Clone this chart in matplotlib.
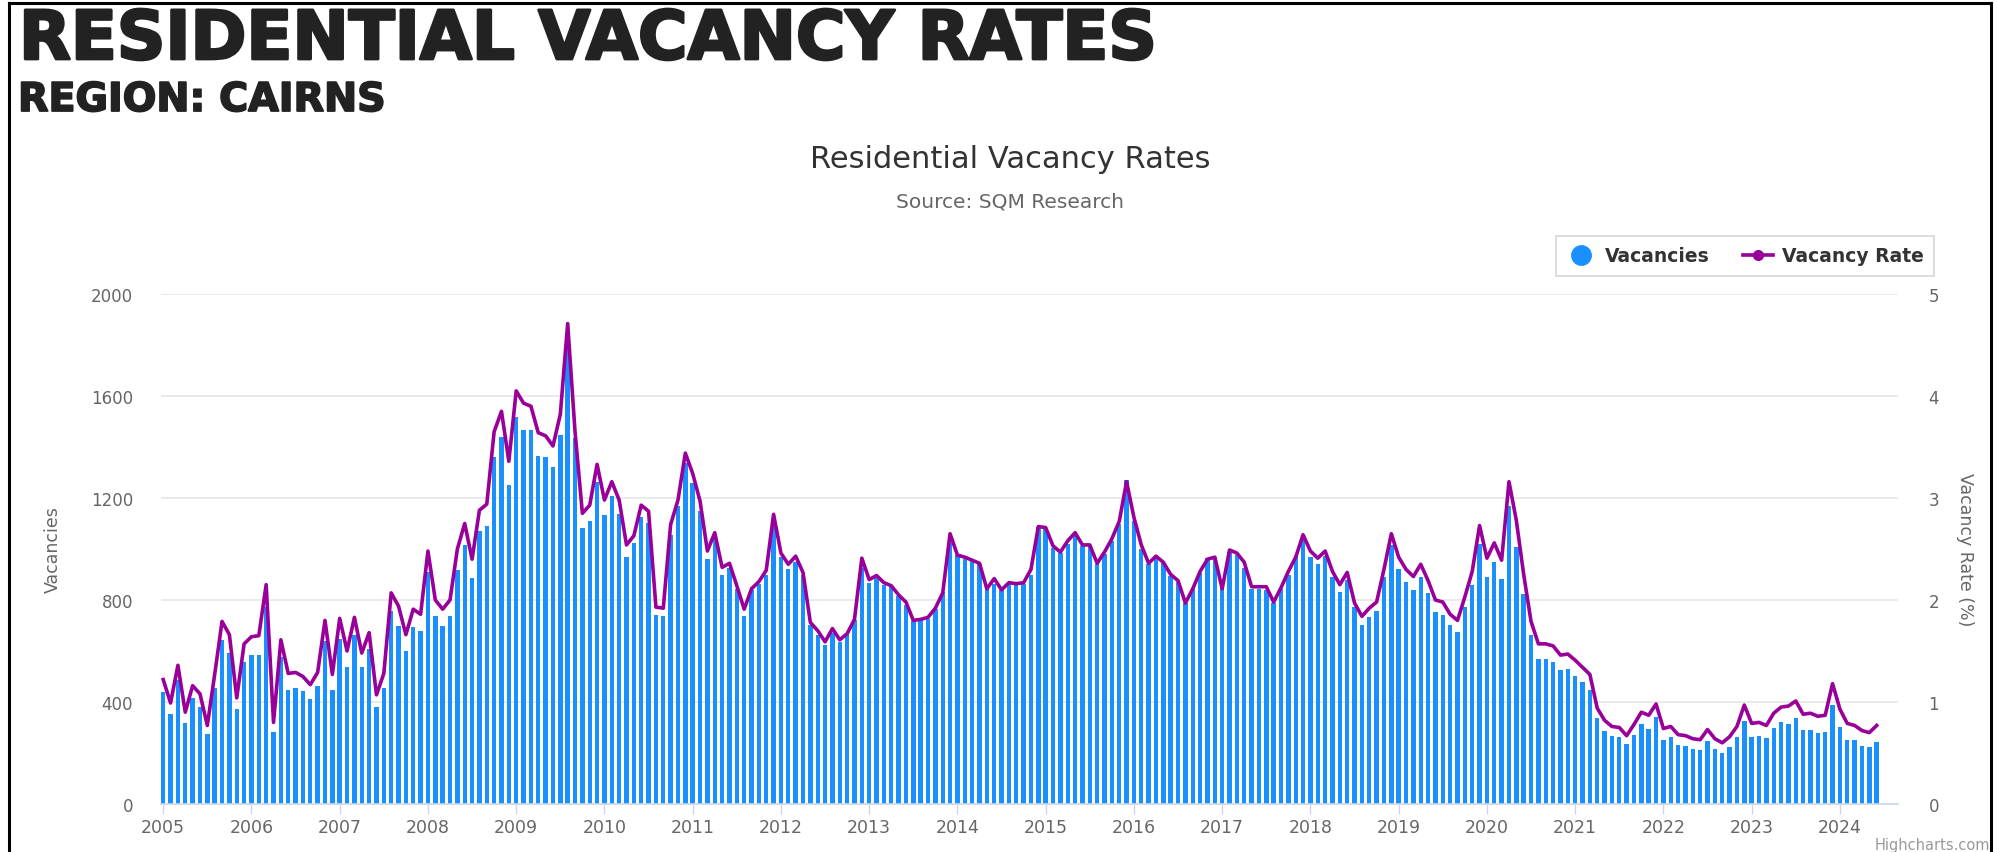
import numpy as np
import matplotlib
matplotlib.use("Agg")
import matplotlib.pyplot as plt
import matplotlib.patheffects as pe
from matplotlib.lines import Line2D

# monthly data, Jan 2005 - Jun 2024
vacancies = [
    438, 354, 487, 319, 417, 382, 273, 455, 643, 592, 371, 557,      # 2005
    585, 585, 773, 284, 578, 449, 456, 442, 410, 462, 641, 449,      # 2006
    648, 536, 662, 536, 608, 382, 456, 755, 699, 599, 694, 678,      # 2007
    909, 736, 697, 736, 916, 1014, 888, 1070, 1092, 1361, 1441, 1252,  # 2008
    1519, 1466, 1466, 1365, 1361, 1322, 1449, 1794, 1434, 1084, 1109, 1263,  # 2009
    1133, 1207, 1137, 969, 1025, 1127, 1102, 741, 736, 1053, 1168, 1337,  # 2010
    1257, 1148, 962, 1039, 899, 924, 843, 738, 839, 864, 899, 1095,  # 2011
    969, 920, 948, 899, 703, 664, 622, 669, 634, 669, 722, 927,      # 2012
    867, 888, 860, 853, 815, 780, 717, 720, 724, 766, 832, 1025,     # 2013
    976, 962, 955, 941, 843, 864, 840, 866, 858, 862, 900, 1085,     # 2014
    1080, 1005, 985, 1020, 1063, 1010, 1010, 940, 980, 1030, 1100, 1270,  # 2015
    1110, 1000, 940, 975, 945, 895, 870, 790, 845, 905, 965, 970,    # 2016
    843, 990, 976, 927, 843, 843, 840, 787, 843, 899, 972, 1039,     # 2017
    969, 941, 972, 892, 832, 878, 773, 701, 734, 755, 892, 1014,     # 2018
    920, 871, 841, 892, 829, 752, 743, 701, 673, 773, 860, 1018,     # 2019
    892, 950, 881, 1168, 1007, 825, 664, 568, 568, 557, 524, 529,    # 2020
    501, 480, 449, 337, 288, 267, 263, 234, 270, 315, 295, 343,      # 2021
    252, 263, 232, 228, 217, 211, 246, 217, 200, 224, 263, 326,      # 2022
    263, 267, 257, 297, 320, 313, 337, 291, 291, 279, 284, 387,      # 2023
    303, 251, 251, 228, 222, 244,                                    # 2024
]

vacancy_rate = [
    1.22, 0.99, 1.36, 0.90, 1.16, 1.08, 0.77, 1.27, 1.79, 1.66, 1.04, 1.57,
    1.64, 1.65, 2.15, 0.80, 1.61, 1.28, 1.29, 1.25, 1.17, 1.29, 1.80, 1.27,
    1.82, 1.50, 1.83, 1.48, 1.68, 1.07, 1.28, 2.07, 1.94, 1.66, 1.91, 1.86,
    2.48, 2.00, 1.91, 2.00, 2.50, 2.75, 2.40, 2.88, 2.94, 3.65, 3.85, 3.36,
    4.05, 3.93, 3.90, 3.64, 3.61, 3.51, 3.82, 4.71, 3.65, 2.85, 2.93, 3.33,
    2.98, 3.16, 2.98, 2.54, 2.63, 2.93, 2.87, 1.93, 1.92, 2.74, 2.98, 3.44,
    3.24, 2.97, 2.48, 2.66, 2.32, 2.36, 2.14, 1.91, 2.11, 2.18, 2.29, 2.84,
    2.46, 2.35, 2.43, 2.27, 1.78, 1.70, 1.59, 1.72, 1.61, 1.67, 1.81, 2.41,
    2.20, 2.24, 2.17, 2.14, 2.05, 1.98, 1.80, 1.81, 1.83, 1.92, 2.07, 2.65,
    2.44, 2.42, 2.39, 2.36, 2.11, 2.21, 2.10, 2.17, 2.16, 2.17, 2.30, 2.72,
    2.71, 2.53, 2.47, 2.58, 2.66, 2.54, 2.54, 2.36, 2.47, 2.60, 2.77, 3.16,
    2.81, 2.54, 2.36, 2.43, 2.37, 2.25, 2.19, 1.97, 2.11, 2.28, 2.40, 2.42,
    2.11, 2.49, 2.46, 2.37, 2.13, 2.13, 2.13, 1.98, 2.12, 2.28, 2.42, 2.64,
    2.48, 2.41, 2.48, 2.28, 2.15, 2.27, 1.97, 1.84, 1.92, 1.98, 2.30, 2.65,
    2.42, 2.30, 2.23, 2.35, 2.19, 2.00, 1.98, 1.86, 1.80, 2.03, 2.28, 2.73,
    2.41, 2.56, 2.39, 3.16, 2.78, 2.25, 1.79, 1.57, 1.57, 1.55, 1.46, 1.47,
    1.41, 1.34, 1.27, 0.94, 0.82, 0.76, 0.75, 0.67, 0.78, 0.90, 0.87, 0.98,
    0.74, 0.76, 0.68, 0.67, 0.64, 0.63, 0.73, 0.64, 0.60, 0.66, 0.76, 0.97,
    0.79, 0.80, 0.77, 0.89, 0.95, 0.96, 1.01, 0.88, 0.89, 0.86, 0.87, 1.18,
    0.93, 0.79, 0.77, 0.72, 0.70, 0.77,
]

start_year = 2005
years = list(range(2005, 2025))
vac_ticks = [0, 400, 800, 1200, 1600, 2000]
rate_ticks = [0, 1, 2, 3, 4, 5]

W, H = 1997, 853
fig = plt.figure(figsize=(W / 100, H / 100), dpi=100)
plt.rcParams['font.family'] = ['DejaVu Sans']

x = np.arange(len(vacancies))
year_pos = [(y - start_year) * 12 for y in years]

ax = fig.add_axes([161 / W, 1 - 805 / H, (1898 - 161) / W, (805 - 295) / H])
ax2 = ax.twinx()

ax.bar(x, vacancies, width=0.6, color='#1a90ff', zorder=2)
ax2.plot(x, vacancy_rate, color='#990099', lw=2.6, solid_joinstyle='round', zorder=3)

ax.set_xlim(-0.3, 235.9)
ax.set_ylim(0, 2000)
ax2.set_ylim(0, 5)
ax.set_yticks(vac_ticks)
ax2.set_yticks(rate_ticks)
ax.set_xticks(year_pos)
ax.set_xticklabels([str(y) for y in years])

ax.set_axisbelow(True)
ax.grid(True, axis='y', color='#e6e6e6', lw=1.2)
for a in (ax, ax2):
    for s in a.spines.values():
        s.set_visible(False)
ax.spines['bottom'].set_visible(True)
ax.spines['bottom'].set_color('#ccd6eb')
ax.spines['bottom'].set_linewidth(1.2)

ax.tick_params(axis='x', length=7, width=1, color='#ccd6eb', labelcolor='#666666',
               labelsize=12.5, pad=3)
ax.tick_params(axis='y', length=0, labelsize=12, labelcolor='#666666', pad=20)
ax2.tick_params(axis='y', length=0, labelsize=12, labelcolor='#666666', pad=22)

fig.text(53 / W, 1 - 550 / H, 'Vacancies', rotation=90, ha='center', va='center',
         fontsize=12.5, color='#666666')
fig.text(1965 / W, 1 - 550 / H, 'Vacancy Rate (%)', rotation=270, ha='center', va='center',
         fontsize=12.5, color='#666666')

# headings (thin stroke to get closer to the extra-bold web font)
fig.text(19 / W, 1 - 60 / H, 'RESIDENTIAL VACANCY RATES', ha='left', va='baseline',
         fontsize=48.5, fontweight='heavy', color='#222222',
         path_effects=[pe.withStroke(linewidth=2, foreground='#222222')])
fig.text(18 / W, 1 - 112 / H, 'REGION: CAIRNS', ha='left', va='baseline',
         fontsize=28.5, fontweight='heavy', color='#222222',
         path_effects=[pe.withStroke(linewidth=1.3, foreground='#222222')])
fig.text(1010 / W, 1 - 160 / H, 'Residential Vacancy Rates', ha='center', va='center',
         fontsize=22, color='#333333')
fig.text(1010 / W, 1 - 202 / H, 'Source: SQM Research', ha='center', va='center',
         fontsize=14.5, color='#666666')
fig.text(1990 / W, 1 - 846 / H, 'Highcharts.com', ha='right', va='center',
         fontsize=10.5, color='#999999')

handles = [
    Line2D([], [], ls='none', marker='o', ms=14, color='#1a90ff'),
    Line2D([], [], color='#990099', lw=2.6, marker='o', ms=7),
]
leg = fig.legend(handles, ['Vacancies', 'Vacancy Rate'], loc='upper right',
                 bbox_to_anchor=(1934 / W, 1 - 237 / H), ncol=2, frameon=True,
                 fancybox=False, edgecolor='#cccccc', handlelength=1.6,
                 columnspacing=1.8, handletextpad=0.45, borderpad=0.55,
                 borderaxespad=0, prop={'weight': 'bold', 'size': 13.5})
leg.get_frame().set_linewidth(1.2)
for t in leg.get_texts():
    t.set_color('#333333')

# outer frame of the screenshot
for xs, ys in [([9 / W, 9 / W], [0, 1 - 4 / H]),
               ([9 / W, 1991 / W], [1 - 4 / H, 1 - 4 / H]),
               ([1991 / W, 1991 / W], [0, 1 - 4 / H])]:
    fig.add_artist(Line2D(xs, ys, color='black', lw=2.2))

fig.savefig('out.png', dpi=100)
